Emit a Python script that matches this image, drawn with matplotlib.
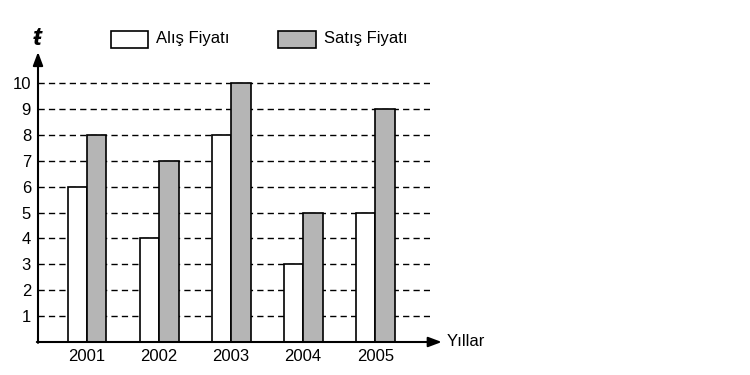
import matplotlib.pyplot as plt
import numpy as np

years = ['2001', '2002', '2003', '2004', '2005']
alis = [6, 4, 8, 3, 5]
satis = [8, 7, 10, 5, 9]
yticks = list(range(1, 11))

plt.rcParams['font.family'] = ['Liberation Sans', 'DejaVu Sans']
fs = 12

fig = plt.figure(figsize=(7.5, 3.75), dpi=100)
ax = fig.add_axes([38/750, 33/375, (430-38)/750, (342-52)/375])

x = np.arange(len(years))
w = 0.27

# dashed grid lines
for v in yticks:
    ax.plot([-0.68, 4.76], [v, v], ls=(0, (4.5, 3)), color='black', lw=1.0, zorder=1)

ax.bar(x - w/2, alis, w, color='white', edgecolor='black', lw=1.2, zorder=2)
ax.bar(x + w/2, satis, w, color='#b5b5b5', edgecolor='black', lw=1.2, zorder=2)

ax.set_xlim(-0.68, 4.76)
ax.set_ylim(0, 11.2)
for s in ax.spines.values():
    s.set_visible(False)
ax.set_xticks(x)
ax.set_xticklabels(years, fontsize=fs)
ax.set_yticks(yticks)
ax.set_yticklabels([str(v) for v in yticks], fontsize=fs)
ax.tick_params(length=0, pad=5)

# axes with arrows
ax.annotate('', xy=(0, 1.0), xytext=(0, -0.003), xycoords='axes fraction',
            arrowprops=dict(arrowstyle='-|>,head_length=0.8,head_width=0.3', color='black', lw=1.5,
                            shrinkA=0, shrinkB=0), annotation_clip=False)
ax.annotate('', xy=(1.03, 0), xytext=(-0.003, 0), xycoords='axes fraction',
            arrowprops=dict(arrowstyle='-|>,head_length=0.8,head_width=0.3', color='black', lw=1.5,
                            shrinkA=0, shrinkB=0), annotation_clip=False)
fig.text(447/750, 1 - 342/375, 'Yıllar', fontsize=fs, va='center', ha='left')
fig.text(37/750, 1 - 38/375, 'ŧ', fontsize=19, fontweight='bold', style='italic',
         va='center', ha='center')

# legend
fig.patches.append(plt.Rectangle((111/750, 1 - 48/375), 37/750, 17/375, transform=fig.transFigure,
                                 facecolor='white', edgecolor='black', lw=1.2))
fig.text(156/750, 1 - 39/375, 'Alış Fiyatı', fontsize=fs, va='center', ha='left')
fig.patches.append(plt.Rectangle((278/750, 1 - 48/375), 38/750, 17/375, transform=fig.transFigure,
                                 facecolor='#b5b5b5', edgecolor='black', lw=1.2))
fig.text(324/750, 1 - 39/375, 'Satış Fiyatı', fontsize=fs, va='center', ha='left')

fig.savefig('out.png', dpi=100)
